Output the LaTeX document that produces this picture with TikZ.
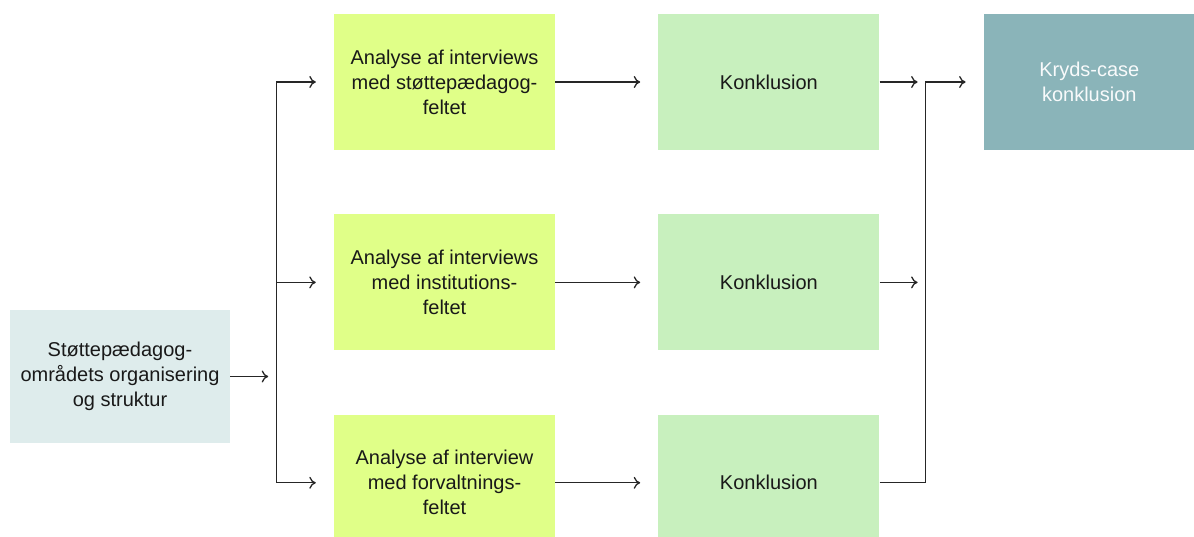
\documentclass[tikz,border=0pt]{standalone}
\usepackage{fontspec}
\setmainfont{Liberation Sans}
\usetikzlibrary{positioning,arrows.meta}
\definecolor{stoettefarve}{RGB}{222,236,236}
\definecolor{analysefarve}{RGB}{224,255,136}
\definecolor{konklfarve}{RGB}{200,240,190}
\definecolor{krydsfarve}{RGB}{138,180,185}
\tikzset{
boks/.style={minimum width=221pt,minimum height=136pt,inner sep=0pt,align=center,font=\fontsize{20}{25}\selectfont,text=black!90},
analyse/.style={boks,fill=analysefarve},
konkl/.style={boks,fill=konklfarve},
pil/.style={-{To[length=6.5pt,width=12pt]},line width=1.3pt,draw=black!85,shorten >=18pt},
}

\begin{document}
\begin{tikzpicture}[x=1pt,y=-1pt]
\useasboundingbox (0,0) rectangle (1194,537);
\clip (0,0) rectangle (1194,537);
\node[boks,fill=stoettefarve,minimum width=220pt,minimum height=133pt](stoette) at (120,376.5){Støttepædagog-\\områdets organisering\\og struktur};
\node[analyse](ana1) at (444.5,82){Analyse af interviews\\med støttepædagog-\\feltet};
\node[analyse,below=64pt of ana1](ana2){Analyse af interviews\\med institutions-\\feltet};
\node[analyse,below=64pt of ana2](ana3){Analyse af interview\\med forvaltnings-\\feltet};
\node[konkl,right=103pt of ana1](kon1){Konklusion};
\node[konkl,right=103pt of ana2](kon2){Konklusion};
\node[konkl,right=103pt of ana3](kon3){Konklusion};
\node[boks,fill=krydsfarve,text=white!94!krydsfarve,minimum width=211pt,right=104pt of kon1](kryds){Kryds-case\\konklusion};
\coordinate[right=46pt of stoette.east](fork);
\coordinate[right=46pt of kon1.east](merge);
% forgrening
\draw[pil,shorten >=8pt] (stoette) -- (fork);
\draw[line width=1.3pt,draw=black!85] (fork |- ana1.west) -- (fork |- ana3.west);
\foreach \i in {1,2,3}{
\draw[pil] (fork |- ana\i.west) -- (ana\i);
\draw[pil] (ana\i) -- (kon\i);
}
% samling
\foreach \i in {1,2}
\draw[pil,shorten >=8pt] (kon\i) -- (merge |- kon\i.east);
\draw[pil] (kon3) -| (merge |- kryds.west) -- (kryds);
\end{tikzpicture}
\end{document}
